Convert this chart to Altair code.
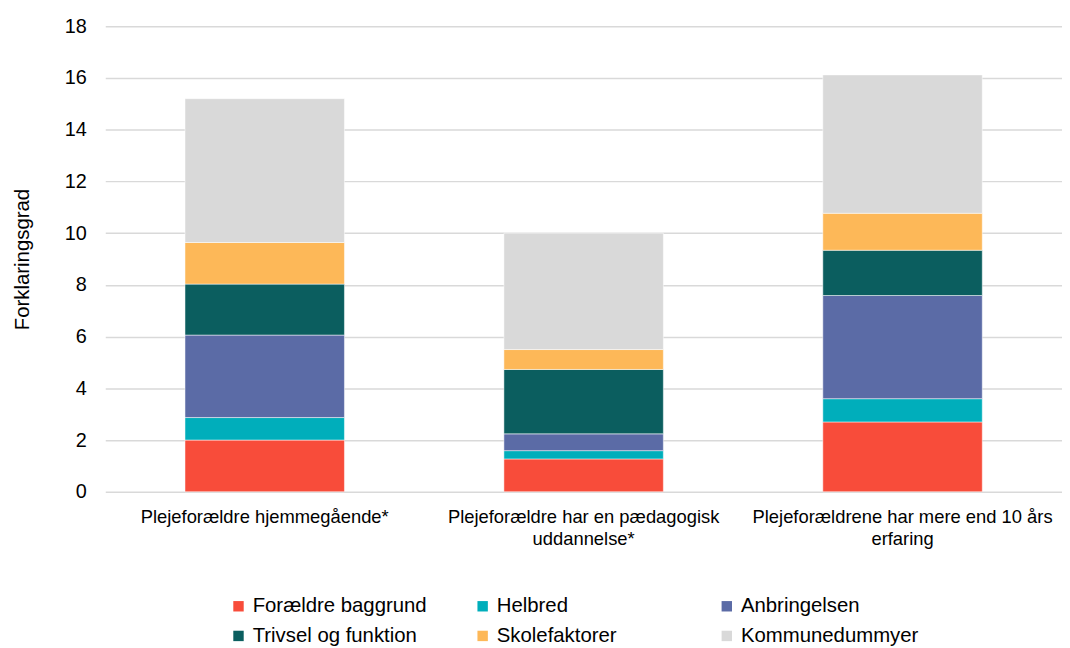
import altair as alt
import pandas as pd

categories = [
    "Plejeforældre hjemmegående*",
    "Plejeforældre har en pædagogisk uddannelse*",
    "Plejeforældrene har mere end 10 års erfaring",
]
label_lines = {
    "Plejeforældre hjemmegående*": ["Plejeforældre hjemmegående*"],
    "Plejeforældre har en pædagogisk uddannelse*": ["Plejeforældre har en pædagogisk", "uddannelse*"],
    "Plejeforældrene har mere end 10 års erfaring": ["Plejeforældrene har mere end 10 års", "erfaring"],
}
series = ["Forældre baggrund", "Helbred", "Anbringelsen",
          "Trivsel og funktion", "Skolefaktorer", "Kommunedummyer"]
colors = ["#F84C3A", "#00AEBB", "#5B6BA6", "#0B5E5F", "#FDB858", "#D9D9D9"]

foraeldre = [2.00, 1.27, 2.70]
helbred = [0.87, 0.32, 0.90]
anbringelsen = [3.19, 0.65, 3.99]
trivsel = [1.97, 2.49, 1.75]
skole = [1.61, 0.77, 1.43]
kommune = [5.56, 4.50, 5.35]

values = [foraeldre, helbred, anbringelsen, trivsel, skole, kommune]
rows = []
for si, (s, vals) in enumerate(zip(series, values)):
    for c, v in zip(categories, vals):
        rows.append({"kategori": c, "serie": s, "orden": si, "værdi": v})
df = pd.DataFrame(rows)

label_expr = "datum.label == '" + categories[1] + "' ? " + str(label_lines[categories[1]]) + \
    " : datum.label == '" + categories[2] + "' ? " + str(label_lines[categories[2]]) + " : datum.label"

FONT = "Liberation Sans"

chart = alt.Chart(df).mark_bar(stroke="white", strokeWidth=0.5).encode(
    x=alt.X("kategori:N", sort=categories, title=None,
            scale=alt.Scale(paddingInner=0.5, paddingOuter=0.25),
            axis=alt.Axis(labelAngle=0, labelExpr=label_expr, labelFontSize=18.5,
                          labelFont=FONT, labelColor="#000000", ticks=False,
                          domain=False, labelPadding=16, labelLineHeight=22,
                          labelLimit=400)),
    y=alt.Y("værdi:Q", stack="zero", title="Forklaringsgrad",
            scale=alt.Scale(domain=[0, 18]),
            axis=alt.Axis(values=list(range(0, 19, 2)), labelFontSize=20, labelFont=FONT,
                          labelColor="#000000", ticks=False, domain=False,
                          labelPadding=19, titleFont=FONT, titleFontSize=20.5,
                          titleFontWeight="normal", titleColor="#000000",
                          titlePadding=32, gridColor="#D9D9D9", gridWidth=1.5)),
    color=alt.Color("serie:N", sort=series,
                    scale=alt.Scale(domain=series, range=colors),
                    legend=alt.Legend(orient="none", legendX=124, legendY=574,
                                      direction="horizontal", columns=3,
                                      gridAlign="all", columnPadding=42, rowPadding=9,
                                      symbolType="square", symbolSize=110,
                                      symbolStrokeWidth=0, labelFont=FONT,
                                      labelFontSize=20.5, labelColor="#000000",
                                      labelLimit=300, title=None)),
    order=alt.Order("orden:Q", sort="ascending"),
).properties(
    width=964, height=469,
    autosize=alt.AutoSizeParams(type="none"),
    padding={"left": 98, "top": 16, "right": 0, "bottom": 159},
).configure_view(stroke=None)

chart.save("out.html", embed_options={"renderer": "svg", "actions": False})
